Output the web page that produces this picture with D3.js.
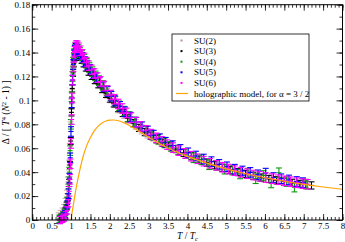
<!DOCTYPE html>
<html><head><meta charset="utf-8">
<script src="https://cdn.jsdelivr.net/npm/d3@7"></script>
<style>
html,body{margin:0;padding:0;background:#fff;}
svg{display:block;font-family:"Liberation Serif","Times New Roman",serif;}
</style></head>
<body><svg id="c" width="345" height="242"></svg>
<script>
// ---------- data ----------
const xTicks = [0,0.5,1,1.5,2,2.5,3,3.5,4,4.5,5,5.5,6,6.5,7,7.5,8];
const xTickLabels = ["0","0.5","1","1.5","2","2.5","3","3.5","4","4.5","5","5.5","6","6.5","7","7.5","8"];
const yTicks = [0,0.02,0.04,0.06,0.08,0.1,0.12,0.14,0.16,0.18];
const yTickLabels = ["0","0.02","0.04","0.06","0.08","0.1","0.12","0.14","0.16","0.18"];

const seriesNames = ["SU(2)","SU(3)","SU(4)","SU(5)","SU(6)"];
const seriesColors = ["#bc8f8f","#000000","#119a11","#0000ff","#ff00ff"];

const T2 = [0.68,0.73,0.78,0.82,0.86,0.89,0.92,0.95,0.97,0.99,1.01,1.03,1.05,1.07,1.09,1.12,1.15,1.19,1.24,1.29,1.35,1.41,1.48,1.56,1.64,1.73,1.83,1.93,2.03,2.13,2.25,2.37,2.52,2.67,2.82,2.97,3.12,3.27,3.42,3.57,3.77,3.97,4.17,4.37,4.57,4.77,4.97,5.17,5.37,5.57,5.77,5.97,6.17,6.37,6.57,6.77,6.92];
const D2 = [0.003,0.005,0.007,0.010,0.015,0.022,0.032,0.046,0.060,0.078,0.097,0.113,0.125,0.133,0.138,0.141,0.1415,0.140,0.1375,0.135,0.132,0.1285,0.125,0.1215,0.118,0.1145,0.1105,0.106,0.102,0.098,0.0935,0.089,0.0845,0.080,0.076,0.0725,0.069,0.066,0.0635,0.061,0.0575,0.0545,0.0515,0.049,0.0465,0.0445,0.0425,0.0408,0.0392,0.0378,0.0363,0.0349,0.0338,0.0326,0.0316,0.0306,0.0299];
const E2 = [0.003,0.003,0.003,0.003,0.003,0.003,0.004,0.004,0.004,0.004,0.004,0.004,0.004,0.004,0.004,0.004,0.004,0.004,0.004,0.004,0.004,0.004,0.004,0.004,0.004,0.004,0.004,0.004,0.004,0.004,0.004,0.004,0.004,0.004,0.004,0.004,0.003,0.003,0.003,0.003,0.003,0.003,0.003,0.003,0.003,0.003,0.003,0.003,0.003,0.003,0.003,0.003,0.003,0.003,0.003,0.003,0.003];

const T3 = [0.72,0.77,0.81,0.85,0.89,0.92,0.95,0.97,0.99,1.01,1.03,1.05,1.07,1.09,1.11,1.14,1.18,1.22,1.27,1.32,1.38,1.45,1.53,1.61,1.70,1.80,1.90,2.00,2.10,2.21,2.33,2.46,2.60,2.75,2.90,3.05,3.20,3.36,3.52,3.70,3.90,4.10,4.30,4.50,4.70,4.90,5.10,5.30,5.50,5.70,5.90,6.10,6.30,6.50,6.70,6.90,7.05,7.20];
const D3 = [0.001,0.002,0.004,0.007,0.012,0.019,0.031,0.046,0.066,0.090,0.110,0.123,0.131,0.136,0.138,0.1385,0.138,0.1365,0.134,0.131,0.1275,0.124,0.1205,0.117,0.1135,0.1095,0.1055,0.1015,0.0975,0.0935,0.0895,0.085,0.081,0.077,0.0735,0.0705,0.0675,0.0645,0.062,0.0593,0.0562,0.0533,0.0505,0.048,0.0458,0.0437,0.0418,0.0401,0.0385,0.037,0.0355,0.0343,0.0332,0.0321,0.0311,0.0302,0.0296,0.0289];
const E3 = [0.003,0.003,0.003,0.003,0.003,0.003,0.003,0.003,0.003,0.003,0.003,0.003,0.003,0.003,0.003,0.003,0.003,0.003,0.003,0.003,0.003,0.003,0.003,0.003,0.003,0.003,0.003,0.003,0.003,0.003,0.003,0.003,0.003,0.003,0.003,0.003,0.003,0.003,0.003,0.003,0.003,0.003,0.003,0.003,0.003,0.003,0.003,0.003,0.003,0.003,0.003,0.003,0.003,0.003,0.003,0.003,0.003,0.003];

const T4 = [0.70,0.75,0.80,0.83,0.87,0.90,0.93,0.955,0.975,0.995,1.015,1.035,1.055,1.075,1.095,1.12,1.15,1.19,1.23,1.28,1.34,1.40,1.47,1.55,1.63,1.72,1.82,1.92,2.02,2.12,2.24,2.36,2.50,2.64,2.79,2.94,3.09,3.25,3.41,3.58,3.76,3.96,4.16,4.36,4.56,4.76,4.96,5.16,5.36,5.56,5.76,5.96,6.16,6.36,6.56,6.76,6.96,7.06];
const D4 = [0.001,0.002,0.004,0.006,0.010,0.016,0.026,0.040,0.058,0.080,0.103,0.120,0.132,0.139,0.143,0.1445,0.144,0.1425,0.140,0.1375,0.1345,0.131,0.1275,0.124,0.1205,0.1165,0.1125,0.108,0.104,0.100,0.0955,0.091,0.0865,0.082,0.078,0.0745,0.071,0.0675,0.0645,0.0615,0.0585,0.0555,0.052,0.0505,0.0462,0.0458,0.0425,0.0418,0.0385,0.0392,0.0345,0.0372,0.0310,0.0395,0.0322,0.0275,0.0308,0.0300];
const E4 = [0.003,0.003,0.003,0.003,0.003,0.003,0.004,0.004,0.004,0.004,0.004,0.004,0.004,0.004,0.004,0.004,0.004,0.004,0.004,0.004,0.004,0.004,0.004,0.004,0.004,0.004,0.004,0.004,0.004,0.004,0.004,0.004,0.004,0.004,0.004,0.004,0.004,0.004,0.004,0.004,0.004,0.004,0.004,0.004,0.004,0.004,0.004,0.004,0.004,0.004,0.004,0.004,0.004,0.004,0.004,0.004,0.004,0.004];

const T5 = [0.71,0.76,0.805,0.845,0.875,0.905,0.935,0.958,0.978,0.998,1.018,1.038,1.058,1.078,1.098,1.125,1.155,1.195,1.245,1.295,1.355,1.415,1.49,1.57,1.65,1.74,1.84,1.94,2.04,2.14,2.26,2.39,2.53,2.68,2.83,2.98,3.13,3.29,3.44,3.62,3.82,4.02,4.22,4.42,4.62,4.82,5.02,5.22,5.42,5.62,5.82,6.02,6.22,6.42,6.62,6.82,6.98];
const D5 = [0.000,0.001,0.003,0.005,0.008,0.013,0.022,0.035,0.052,0.074,0.098,0.117,0.130,0.138,0.142,0.1435,0.1425,0.141,0.1385,0.136,0.1325,0.1295,0.126,0.1225,0.119,0.1155,0.1115,0.1075,0.1035,0.0995,0.095,0.0905,0.086,0.0818,0.078,0.0745,0.071,0.068,0.065,0.0622,0.059,0.0562,0.0535,0.051,0.0488,0.0465,0.0445,0.0425,0.041,0.0398,0.0378,0.0392,0.0355,0.0345,0.0335,0.0322,0.0312];
const E5 = [0.003,0.003,0.003,0.003,0.003,0.003,0.004,0.004,0.004,0.004,0.004,0.004,0.004,0.004,0.004,0.004,0.004,0.004,0.004,0.004,0.004,0.004,0.004,0.004,0.004,0.004,0.004,0.004,0.004,0.004,0.004,0.004,0.004,0.004,0.004,0.004,0.004,0.004,0.004,0.004,0.004,0.004,0.004,0.004,0.004,0.004,0.004,0.004,0.004,0.004,0.004,0.004,0.004,0.004,0.004,0.004,0.004];

const T6 = [0.72,0.78,0.82,0.86,0.90,0.93,0.955,0.97,0.985,1.00,1.015,1.03,1.045,1.06,1.075,1.09,1.11,1.135,1.165,1.20,1.24,1.29,1.34,1.40,1.46,1.53,1.60,1.68,1.76,1.85,1.94,2.03,2.12,2.22,2.32,2.43,2.55,2.67,2.80,2.93,3.06,3.20,3.34,3.48,3.63,3.78,3.94,4.10,4.26,4.42,4.58,4.74,4.90,5.06,5.22,5.38,5.54,5.70,5.86,6.02,6.18,6.34,6.50,6.66,6.82,6.98,7.10];
const D6 = [0.000,0.001,0.002,0.004,0.008,0.014,0.024,0.034,0.047,0.064,0.084,0.102,0.117,0.128,0.136,0.141,0.1445,0.146,0.1455,0.144,0.1415,0.1385,0.1355,0.132,0.129,0.1255,0.1225,0.119,0.1158,0.112,0.1083,0.1045,0.101,0.097,0.0932,0.0895,0.0855,0.0818,0.0782,0.075,0.0718,0.0687,0.0658,0.063,0.0605,0.058,0.0557,0.0533,0.0512,0.0492,0.0474,0.0457,0.0441,0.0426,0.0412,0.0399,0.0387,0.0376,0.0365,0.0355,0.0346,0.0337,0.0328,0.032,0.0312,0.0305,0.0299];
const E6 = [0.003,0.003,0.003,0.003,0.003,0.003,0.004,0.004,0.004,0.004,0.004,0.004,0.004,0.004,0.004,0.004,0.004,0.004,0.004,0.004,0.004,0.004,0.004,0.004,0.004,0.004,0.004,0.004,0.004,0.004,0.004,0.004,0.004,0.004,0.004,0.004,0.004,0.004,0.004,0.004,0.004,0.004,0.004,0.004,0.004,0.004,0.004,0.004,0.004,0.004,0.004,0.004,0.004,0.004,0.004,0.004,0.004,0.004,0.004,0.004,0.004,0.004,0.004,0.004,0.004,0.004,0.004];

const holoLabel = "holographic model, for α = 3 / 2";
const holoT = [1.0,1.02,1.05,1.1,1.15,1.2,1.3,1.4,1.5,1.6,1.7,1.8,1.9,2.0,2.1,2.2,2.4,2.6,2.8,3.0,3.25,3.5,3.75,4.0,4.5,5.0,5.5,6.0,6.5,7.0,7.5,8.0];
const holoD = [0.0,0.005,0.011,0.021,0.030,0.038,0.052,0.062,0.069,0.0745,0.0785,0.0812,0.0828,0.0835,0.0836,0.0832,0.0808,0.0772,0.0732,0.0692,0.0645,0.0602,0.0565,0.0532,0.0475,0.0427,0.0387,0.0353,0.0324,0.0298,0.0276,0.0257];

// ---------- layout ----------
const svg = d3.select("#c");
const X0 = 32.3, X1 = 342.5, Y0 = 220, Y1 = 4.7;
const x = d3.scaleLinear().domain([0,8]).range([X0,X1]);
const y = d3.scaleLinear().domain([0,0.18]).range([Y0,Y1]);

const series = [
  {T:T2,D:D2,E:E2},{T:T3,D:D3,E:E3},{T:T4,D:D4,E:E4},{T:T5,D:D5,E:E5},{T:T6,D:D6,E:E6}
].map((s,i)=>({name:seriesNames[i],color:seriesColors[i],
   pts:d3.zip(s.T,s.D,s.E).map(([t,d,e])=>({t,d,e}))}));

// data marks
const gData = svg.append("g");
series.forEach((s,si)=>{
  const g = gData.append("g").attr("stroke",s.color).attr("fill",s.color).attr("stroke-width",1.1)
     .attr("stroke-opacity", si===0 ? 0.75 : 1);
  s.pts.forEach(p=>{
    const cx = x(p.t), ya = y(p.d - p.e), yb = y(p.d + p.e);
    g.append("line").attr("x1",cx).attr("x2",cx).attr("y1",ya).attr("y2",yb);
    g.append("line").attr("x1",cx-3).attr("x2",cx+3).attr("y1",ya).attr("y2",ya);
    g.append("line").attr("x1",cx-3).attr("x2",cx+3).attr("y1",yb).attr("y2",yb);
    g.append("line").attr("x1",cx-2.5).attr("x2",cx+2.5).attr("y1",y(p.d)).attr("y2",y(p.d));
  });
});

// holographic line
svg.append("path")
  .datum(d3.zip(holoT,holoD))
  .attr("fill","none").attr("stroke","#ffa500").attr("stroke-width",1.2)
  .attr("d", d3.line().x(d=>x(d[0])).y(d=>y(d[1])).curve(d3.curveMonotoneX));

// axes
const xMinor = d3.range(0,81).map(i=>i/10);
const yMinor = d3.range(0,19).map(i=>i/100);
function styleAxis(g){ g.select(".domain").remove(); g.selectAll("line").attr("stroke","#000").attr("stroke-width",0.8);
  g.selectAll("text").attr("font-family","Liberation Serif, serif").attr("font-size",9).attr("fill","#000"); }

svg.append("g").attr("transform",`translate(0,${Y0})`)
  .call(d3.axisBottom(x).tickValues(xMinor).tickSizeInner(-3).tickSizeOuter(0).tickFormat("")).call(styleAxis);
svg.append("g").attr("transform",`translate(0,${Y0})`)
  .call(d3.axisBottom(x).tickValues(xTicks).tickSizeInner(-6).tickSizeOuter(0).tickPadding(3)
        .tickFormat((d,i)=>xTickLabels[i])).call(styleAxis);
svg.append("g").attr("transform",`translate(0,${Y1})`)
  .call(d3.axisTop(x).tickValues(xMinor).tickSizeInner(-3).tickSizeOuter(0).tickFormat("")).call(styleAxis);
svg.append("g").attr("transform",`translate(0,${Y1})`)
  .call(d3.axisTop(x).tickValues(xTicks).tickSizeInner(-6).tickSizeOuter(0).tickFormat("")).call(styleAxis);

svg.append("g").attr("transform",`translate(${X0},0)`)
  .call(d3.axisLeft(y).tickValues(yMinor).tickSizeInner(-3).tickSizeOuter(0).tickFormat("")).call(styleAxis);
svg.append("g").attr("transform",`translate(${X0},0)`)
  .call(d3.axisLeft(y).tickValues(yTicks).tickSizeInner(-6).tickSizeOuter(0).tickPadding(2)
        .tickFormat((d,i)=>yTickLabels[i])).call(styleAxis);
svg.append("g").attr("transform",`translate(${X1},0)`)
  .call(d3.axisRight(y).tickValues(yMinor).tickSizeInner(-3).tickSizeOuter(0).tickFormat("")).call(styleAxis);
svg.append("g").attr("transform",`translate(${X1},0)`)
  .call(d3.axisRight(y).tickValues(yTicks).tickSizeInner(-6).tickSizeOuter(0).tickFormat("")).call(styleAxis);

svg.append("rect").attr("x",X0).attr("y",Y1).attr("width",X1-X0).attr("height",Y0-Y1)
  .attr("fill","none").attr("stroke","#000").attr("stroke-width",1);

// axis titles
const xt = svg.append("text").attr("x",(X0+X1)/2).attr("y",238.5).attr("text-anchor","middle")
  .attr("font-size",9.5).attr("fill","#000");
xt.append("tspan").attr("font-style","italic").text("T");
xt.append("tspan").text(" / ");
xt.append("tspan").attr("font-style","italic").text("T");
xt.append("tspan").attr("font-size",6.5).attr("dy",2.5).attr("font-style","italic").text("c");

const yt = svg.append("text").attr("transform",`translate(9,${(Y0+Y1)/2}) rotate(-90)`)
  .attr("text-anchor","middle").attr("font-size",9.5).attr("fill","#000");
yt.append("tspan").text("Δ / [ ");
yt.append("tspan").attr("font-style","italic").text("T");
yt.append("tspan").attr("font-size",6.5).attr("dy",-3.5).text("4");
yt.append("tspan").attr("dy",3.5).text(" (");
yt.append("tspan").attr("font-style","italic").text("N");
yt.append("tspan").attr("font-size",6.5).attr("dy",-3.5).text("2");
yt.append("tspan").attr("dy",3.5).text(" - 1) ]");

// legend
const lg = svg.append("g");
lg.append("rect").attr("x",172).attr("y",34).attr("width",137).attr("height",67)
  .attr("fill","#fff").attr("stroke","#000").attr("stroke-width",0.8);
const rowY = d3.scaleLinear().domain([0,5]).range([40.5,93.5]);
series.forEach((s,i)=>{
  lg.append("rect").attr("x",180.5).attr("y",rowY(i)-1).attr("width",2).attr("height",2).attr("fill",s.color);
  lg.append("text").attr("x",194).attr("y",rowY(i)+3).attr("font-size",9).attr("fill","#000").text(s.name);
});
lg.append("line").attr("x1",176).attr("x2",188).attr("y1",rowY(5)).attr("y2",rowY(5))
  .attr("stroke","#ffa500").attr("stroke-width",1.2);
lg.append("text").attr("x",194).attr("y",rowY(5)+3).attr("font-size",9).attr("fill","#000").text(holoLabel);
</script>
</body></html>
